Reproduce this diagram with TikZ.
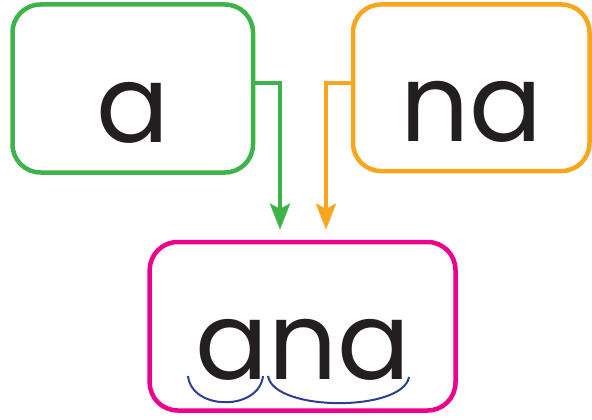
\documentclass[tikz,border=0pt]{standalone}
\usepackage{fontspec}
\setmainfont{Poppins}
\usetikzlibrary{arrows.meta}

\definecolor{boxgreen}{RGB}{62,179,74}
\definecolor{boxorange}{RGB}{248,166,30}
\definecolor{boxpink}{RGB}{236,0,140}
\definecolor{arcblue}{RGB}{44,62,145}
\definecolor{ink}{RGB}{35,31,32}

\begin{document}
\begin{tikzpicture}[
  x=1pt, y=-1pt,
  >={Stealth[length=26pt,width=20pt,inset=5pt]},
  word/.style={draw,rounded corners=28pt,line width=4.5pt,inner sep=0pt,
    text height=107pt,text depth=0pt,font=\fontsize{108}{108}\selectfont,text=ink},
  flow/.style={->,line width=4pt},
  split/.style={draw=arcblue,line width=2pt}
]
  \useasboundingbox (0,0) rectangle (592,420);

  \node[word,draw=boxgreen,minimum width=240.5pt,minimum height=168pt] (abox) at (132.75,88.5) {a};
  \node[word,draw=boxorange,minimum width=236.5pt,minimum height=166.5pt] (nabox) at (471.25,87.75) {na};
  \node[word,draw=boxpink,minimum width=305.8pt,minimum height=168.5pt] (anabox) at (302.6,326.25) {ana};

  \draw[flow,boxgreen] ([yshift=5.5pt]abox.east) -| ([xshift=-22.6pt,yshift=10pt]anabox.north);
  \draw[flow,boxorange] ([yshift=4.75pt]nabox.west) -| ([xshift=23.4pt,yshift=10pt]anabox.north);

  % syllable marks under the word
  \coordinate (s1) at (188,376);
  \coordinate (s2) at (263,376);
  \coordinate (s3) at (268,376);
  \coordinate (s4) at (409,377);
  \draw[split] (s1) .. controls (192,411) and (259,411) .. (s2);
  \draw[split] (s3) .. controls (274,412) and (403,412) .. (s4);
\end{tikzpicture}
\end{document}
